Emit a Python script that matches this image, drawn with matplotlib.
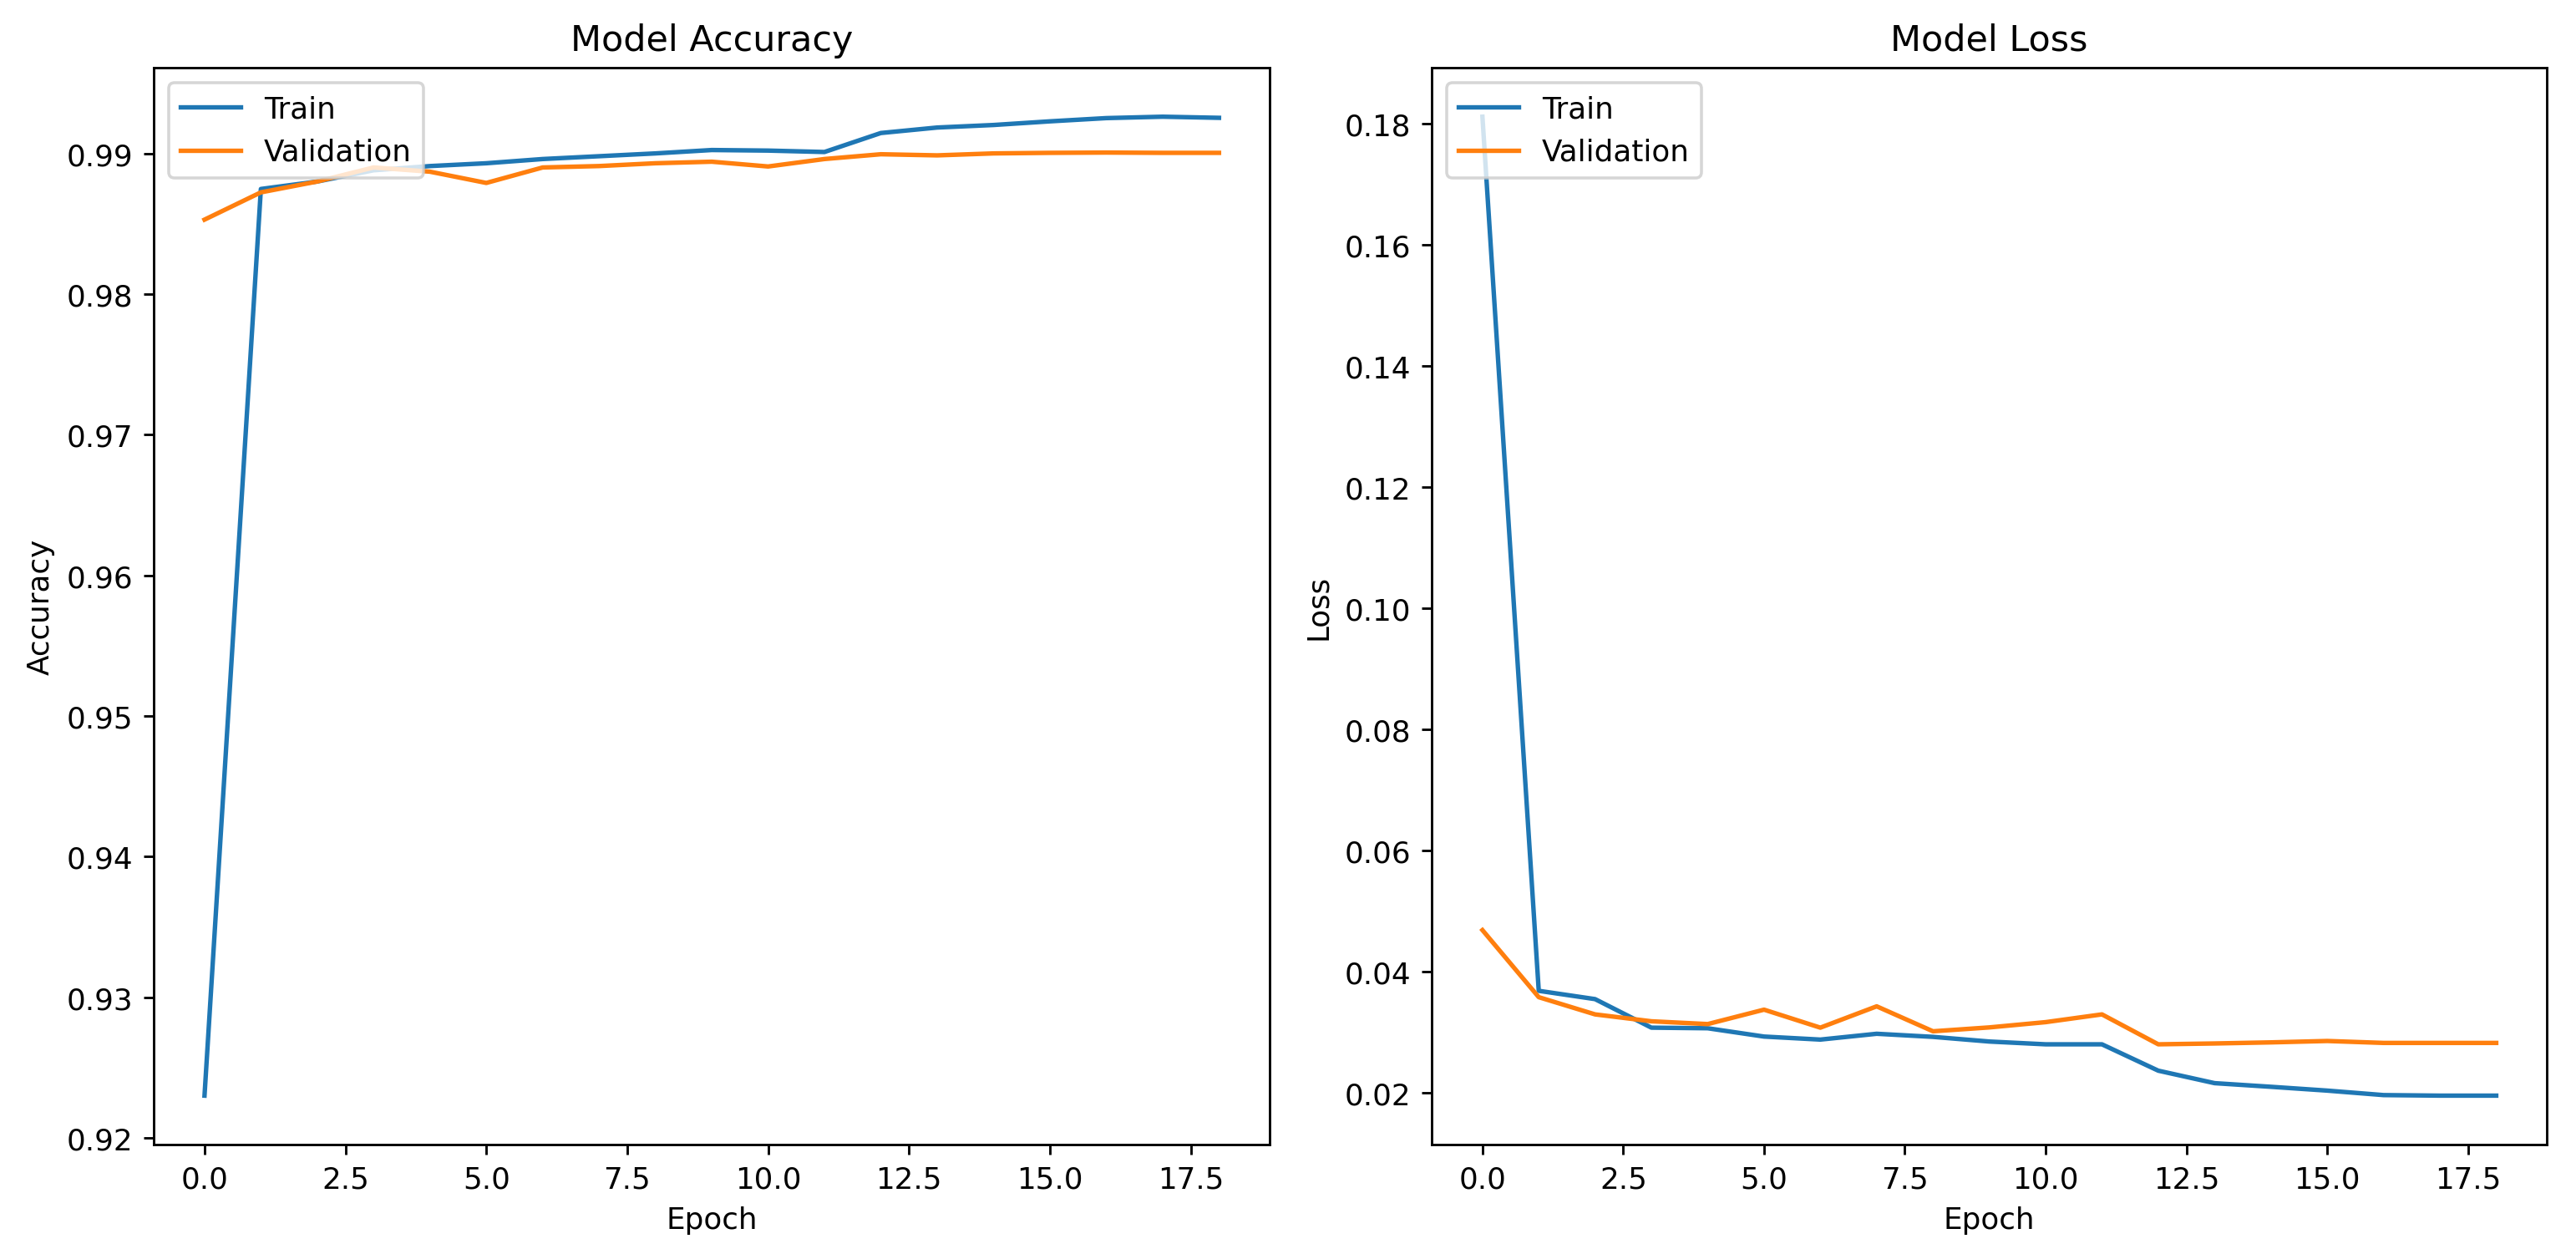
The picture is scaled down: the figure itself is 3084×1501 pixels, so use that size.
import matplotlib
matplotlib.use("Agg")
import matplotlib.pyplot as plt
import numpy as np

epochs = np.arange(19)

train_acc = [0.9230, 0.98747, 0.9880, 0.9888, 0.9891, 0.9893, 0.9896, 0.9898, 0.9900,
             0.99024, 0.9902, 0.9901, 0.99145, 0.99184, 0.99202, 0.99228, 0.99251, 0.99261, 0.99253]
val_acc = [0.98529, 0.98723, 0.9880, 0.9890, 0.9887, 0.9879, 0.9890, 0.9891, 0.9893,
           0.98941, 0.98907, 0.9896, 0.98994, 0.98986, 0.9900, 0.99004, 0.99006, 0.99004, 0.99004]

train_loss = [0.1811, 0.03684, 0.03547, 0.03076, 0.03066, 0.02929, 0.02879, 0.02975, 0.02924,
              0.02847, 0.02801, 0.02801, 0.02366, 0.0216, 0.0210, 0.02037, 0.01963, 0.01954, 0.01954]
val_loss = [0.04686, 0.03579, 0.03295, 0.03181, 0.03135, 0.03373, 0.03076, 0.03428, 0.03016,
            0.0308, 0.03167, 0.03295, 0.02801, 0.02815, 0.02833, 0.02856, 0.02824, 0.02824, 0.02824]

fig = plt.figure(figsize=(12, 5.844), dpi=257)
ax1 = fig.add_axes([0.0597, 0.0872, 0.4332, 0.8582])
ax2 = fig.add_axes([0.5558, 0.0872, 0.4329, 0.8582])

# accuracy
ax1.plot(epochs, train_acc, label="Train")
ax1.plot(epochs, val_acc, label="Validation")
ax1.set_title("Model Accuracy")
ax1.set_xlabel("Epoch")
ax1.set_ylabel("Accuracy")
ax1.legend(loc="upper left")

# loss
ax2.plot(epochs, train_loss, label="Train")
ax2.plot(epochs, val_loss, label="Validation")
ax2.set_title("Model Loss")
ax2.set_xlabel("Epoch")
ax2.set_ylabel("Loss")
ax2.legend(loc="upper left")

fig.savefig("out.png", dpi=257)
